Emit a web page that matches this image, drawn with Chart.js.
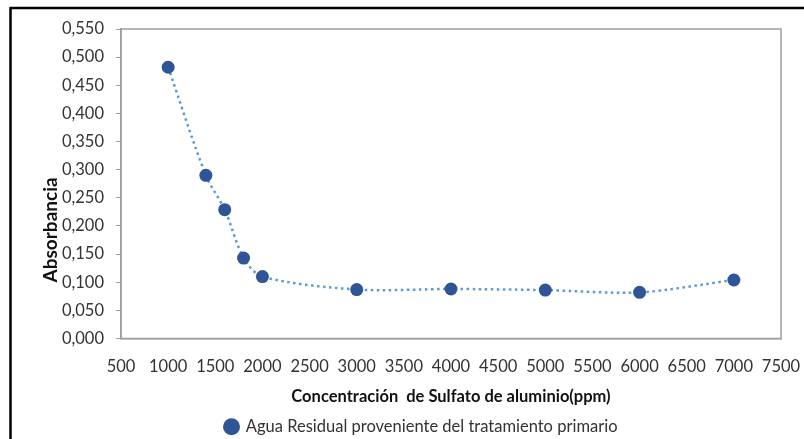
<!DOCTYPE html>
<html>
<head>
<meta charset="utf-8">
<script src="https://cdn.jsdelivr.net/npm/chart.js@4"></script>
<style>
  html, body { margin: 0; padding: 0; background: #fff; }
  #wrap { width: 804px; height: 439px; position: relative; }
</style>
</head>
<body>
<div id="wrap"><canvas id="chart" width="804" height="439"></canvas></div>
<script>
// datos
const concentracion = [1000, 1400, 1600, 1800, 2000, 3000, 4000, 5000, 6000, 7000];
const absorbancia = [0.482, 0.290, 0.229, 0.143, 0.110, 0.087, 0.088, 0.086, 0.082, 0.104];
const serieNombre = 'Agua Residual proveniente del tratamiento primario';
const ejeX = 'Concentración  de Sulfato de aluminio(ppm)';
const ejeY = 'Absorbancia';

const fuente = 'Lato, "Open Sans", sans-serif';

// marco negro exterior y borde gris del área de trazado
const marcoPlugin = {
    id: 'marco',
    beforeDraw(chart) {
        const ctx = chart.ctx;
        ctx.save();
        ctx.fillStyle = '#fff';
        ctx.fillRect(0, 0, chart.width, chart.height);
        ctx.strokeStyle = '#000';
        ctx.lineWidth = 2.5;
        ctx.beginPath();
        ctx.moveTo(10, 8);
        ctx.lineTo(chart.width, 8);
        ctx.moveTo(10.5, 7);
        ctx.lineTo(10.5, chart.height);
        ctx.stroke();
        ctx.restore();
    },
    afterDatasetsDraw(chart) {
        const a = chart.chartArea;
        const ctx = chart.ctx;
        ctx.save();
        ctx.strokeStyle = '#9e9e9e';
        ctx.lineWidth = 1.5;
        ctx.strokeRect(a.left, a.top, a.right - a.left, a.bottom - a.top);
        ctx.restore();
    },
    afterLayout(chart) {
        // la leyenda de Excel no está centrada en el lienzo
        chart.legend.left += 31;
        chart.legend.right += 31;
        chart.legend.top += 6;
        chart.legend.bottom += 6;
    }
};

const ctx = document.getElementById('chart').getContext('2d');
new Chart(ctx, {
    type: 'line',
    data: {
        datasets: [{
            label: serieNombre,
            data: concentracion.map((x, i) => ({ x: x, y: absorbancia[i] })),
            borderColor: '#5b9bd5',
            borderWidth: 2.5,
            borderDash: [2.5, 3.5],
            tension: 0.3,
            pointRadius: 6.5,
            pointBackgroundColor: '#2f5597',
            pointBorderColor: '#2f5597',
            pointBorderWidth: 0,
            fill: false
        }]
    },
    options: {
        responsive: false,
        animation: false,
        layout: { padding: { left: 0, right: 23, top: 29, bottom: 0 } },
        plugins: {
            tooltip: { enabled: false },
            legend: {
                position: 'bottom',
                labels: {
                    usePointStyle: true,
                    pointStyle: 'circle',
                    boxWidth: 12,
                    boxHeight: 12,
                    padding: 2,
                    color: '#333',
                    font: { family: fuente, size: 16.5 }
                }
            }
        },
        scales: {
            x: {
                type: 'linear',
                min: 500,
                max: 7500,
                border: { display: true, color: '#9e9e9e', width: 1.5 },
                grid: { display: false },
                ticks: {
                    stepSize: 500,
                    padding: 10,
                    color: '#333',
                    font: { family: fuente, size: 16.5 },
                    maxRotation: 0,
                    callback: v => String(v)
                },
                title: {
                    display: true,
                    text: ejeX,
                    color: '#111',
                    font: { family: fuente, size: 16.5, weight: 'bold' },
                    padding: { top: 4, bottom: 4 }
                },
                afterFit(scale) {
                    scale.height = 72;
                    scale.paddingLeft = 0;
                    scale.paddingRight = 0;
                }
            },
            y: {
                min: 0,
                max: 0.55,
                border: { display: true, color: '#9e9e9e', width: 1.5 },
                grid: { display: true, drawOnChartArea: false, drawTicks: true, tickLength: 5, color: '#9e9e9e' },
                ticks: {
                    stepSize: 0.05,
                    padding: 12,
                    color: '#333',
                    font: { family: fuente, size: 16.5 },
                    callback: v => v.toFixed(3).replace('.', ',')
                },
                title: {
                    display: true,
                    text: ejeY + '\u00a0'.repeat(20),
                    color: '#111',
                    font: { family: fuente, size: 19, weight: 'bold' },
                    padding: { top: 39, bottom: 0 }
                },
                afterFit(scale) { scale.width = 121; }
            }
        }
    },
    plugins: [marcoPlugin]
});
</script>
</body>
</html>
